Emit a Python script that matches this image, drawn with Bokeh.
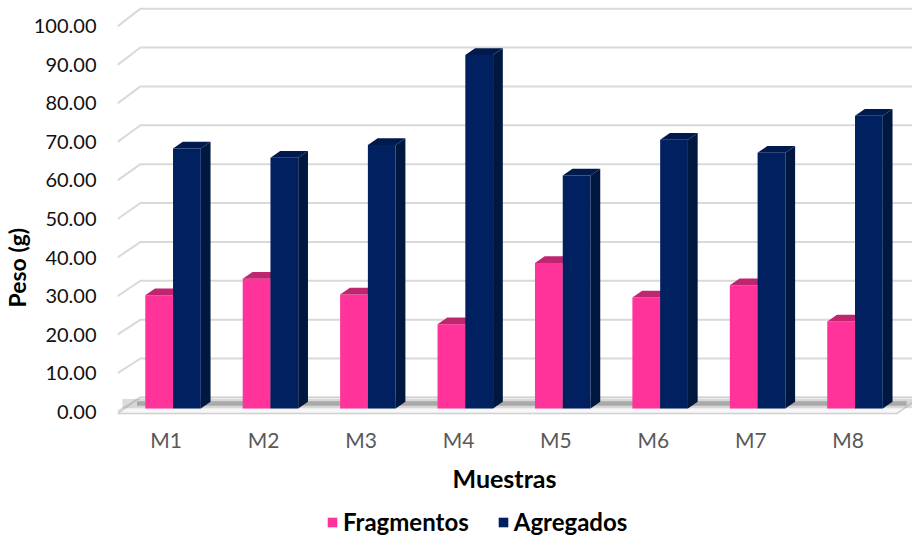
import math
from bokeh.plotting import figure
from bokeh.layouts import column
from bokeh.models import (Range1d, LinearAxis, FixedTicker, NumeralTickFormatter,
                          Title, Legend, LegendItem)
from bokeh.embed import file_html
from bokeh.resources import INLINE

# ---- data ----
categories = ["M1", "M2", "M3", "M4", "M5", "M6", "M7", "M8"]
fragmentos = [29.4, 33.7, 29.6, 21.9, 37.8, 28.8, 32.0, 22.6]
agregados = [67.5, 65.1, 68.4, 91.8, 60.5, 69.8, 66.4, 76.0]
y_ticks = [0, 10, 20, 30, 40, 50, 60, 70, 80, 90, 100]
series_names = ["Fragmentos", "Agregados"]

# ---- style / geometry constants ----
PINK, PINK_TOP, PINK_SIDE = "#FF3399", "#C0266F", "#B01F63"
NAVY, NAVY_TOP, NAVY_SIDE = "#002060", "#001A4D", "#00173F"
GRID = "#D9D9D9"
FONT = "Lato"
BASE = 0.8          # bar base lift (depth position of bars)
BW = 0.285          # bar width (category units)
BDX, BDY = 0.10, 1.75   # bar depth offsets
WDX = 0.236         # wall depth offset x

def wdy(v):
    return 3.7 + 0.009 * v

p = figure(width=912, height=505, output_backend="svg", toolbar_location=None,
           x_range=Range1d(0.5, 8.66), y_range=Range1d(-1, 106.2),
           min_border_left=116, min_border_right=0, min_border_top=2,
           min_border_bottom=90, x_axis_location=None, y_axis_location=None,
           tools="")
p.outline_line_color = None
p.background_fill_color = "white"
p.border_fill_color = "white"
p.xgrid.visible = False
p.ygrid.visible = False

# ---- walls: back gridlines and side diagonals ----
gx, gy = [], []
for v in y_ticks:
    gx.append([0.5, 0.5 + WDX, 8.8])
    gy.append([v, v + wdy(v), v + wdy(v)])
p.multi_line(gx, gy, line_color=GRID, line_width=2)

# ---- floor ----
x_end = 0.5 + len(categories)
p.patch([0.5, x_end, x_end + WDX, 0.5 + WDX],
        [-0.5, -0.5, wdy(0), wdy(0)],
        fill_color="#F7F7F7", line_color="#D0D0D0", line_width=1.5)
p.patch([0.55, x_end + 0.2, x_end + 0.2, 0.55],
        [0.9, 0.9, 3.3, 3.3], fill_color="#9A9A9A", fill_alpha=0.35, line_color=None)
p.patch([0.7, x_end + 0.1, x_end + 0.1, 0.7],
        [1.5, 1.5, 2.7, 2.7], fill_color="#707070", fill_alpha=0.45, line_color=None)

# ---- bars ----
idx = list(range(1, len(categories) + 1))
fx = [c - 0.0725 for c in idx]
ax = [c + 0.2125 for c in idx]
ftop = [BASE + v for v in fragmentos]
atop = [BASE + v for v in agregados]

def tops(xc, top):
    xs, ys = [], []
    for x, t in zip(xc, top):
        x0, x1 = x - BW / 2, x + BW / 2
        xs.append([x0, x1, x1 + BDX, x0 + BDX])
        ys.append([t, t, t + BDY, t + BDY])
    return xs, ys

def sides(xc, top):
    xs, ys = [], []
    for x, t in zip(xc, top):
        x1 = x + BW / 2
        xs.append([x1, x1 + BDX, x1 + BDX, x1])
        ys.append([BASE, BASE + BDY, t + BDY, t])
    return xs, ys

sx, sy = sides(fx, ftop)
p.patches(sx, sy, fill_color=PINK_SIDE, line_color=None)
p.vbar(x=fx, width=BW, bottom=BASE, top=ftop, fill_color=PINK, line_color=None)
tx, ty = tops(fx, ftop)
p.patches(tx, ty, fill_color=PINK_TOP, line_color=None)

sx, sy = sides(ax, atop)
p.patches(sx, sy, fill_color=NAVY_SIDE, line_color=None)
p.vbar(x=ax, width=BW, bottom=BASE, top=atop, fill_color=NAVY, line_color=None)
tx, ty = tops(ax, atop)
p.patches(tx, ty, fill_color=NAVY_TOP, line_color=None)

# ---- axes ----
yaxis = LinearAxis(ticker=FixedTicker(ticks=y_ticks),
                   formatter=NumeralTickFormatter(format="0.00"))
yaxis.axis_line_color = None
yaxis.major_tick_line_color = None
yaxis.minor_tick_line_color = None
yaxis.major_tick_out = 0
yaxis.major_tick_in = 0
yaxis.minor_tick_out = 0
yaxis.major_label_standoff = 21
yaxis.major_label_text_font = FONT
yaxis.major_label_text_font_size = "20px"
yaxis.major_label_text_color = "#111111"
p.add_layout(yaxis, "left")

xaxis = LinearAxis(ticker=FixedTicker(ticks=idx),
                   major_label_overrides={i: c for i, c in zip(idx, categories)})
xaxis.axis_line_color = None
xaxis.major_tick_line_color = None
xaxis.minor_tick_line_color = None
xaxis.major_tick_out = 0
xaxis.major_tick_in = 0
xaxis.minor_tick_out = 0
xaxis.major_label_standoff = 11
xaxis.major_label_text_font = FONT
xaxis.major_label_text_font_size = "21px"
xaxis.major_label_text_color = "#595959"
p.add_layout(xaxis, "below")

# ---- titles ----
p.add_layout(Title(text="Peso (g)", align="left", offset=108, standoff=0,
                   text_font=FONT, text_font_style="bold", text_font_size="23px",
                   text_color="#000000"), "left")
p.add_layout(Title(text="Muestras", align="left", offset=335, standoff=12,
                   text_font=FONT, text_font_style="bold", text_font_size="25px",
                   text_color="#000000"), "below")

# ---- legend strip ----
p2 = figure(width=912, height=34, output_backend="svg", toolbar_location=None,
            x_range=Range1d(0, 10), y_range=Range1d(0, 10),
            min_border=0, x_axis_location=None, y_axis_location=None, tools="")
p2.outline_line_color = None
p2.xgrid.visible = False
p2.ygrid.visible = False
lf = p2.vbar(x=[5], bottom=[0], top=[0], width=0, fill_color=PINK, line_color=None)
la = p2.vbar(x=[5], bottom=[0], top=[0], width=0, fill_color=NAVY, line_color=None)
legend = Legend(items=[LegendItem(label=series_names[0], renderers=[lf]),
                       LegendItem(label=series_names[1], renderers=[la])],
                location=(209, 3), orientation="horizontal",
                padding=0, margin=0, spacing=28, glyph_width=12, glyph_height=12,
                label_standoff=5, label_text_font=FONT, label_text_font_style="bold",
                label_text_font_size="24px", label_text_color="#000000",
                border_line_color=None, background_fill_alpha=0)
p2.add_layout(legend, "center")

layout = column(p, p2, spacing=0)
open("out.html", "w").write(file_html(layout, INLINE))
